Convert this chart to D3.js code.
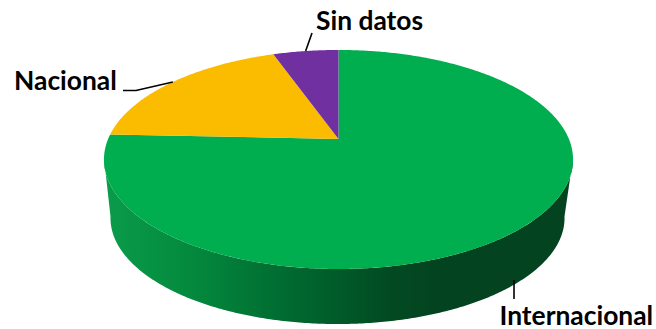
<!DOCTYPE html>
<html><head><meta charset="utf-8">
<script src="https://cdn.jsdelivr.net/npm/d3@7"></script>
<style>html,body{margin:0;padding:0;background:#fff}svg{display:block}</style>
</head><body><svg id="c" width="656" height="329"></svg>
<script>
const categories = ["Internacional", "Nacional", "Sin datos"];
const values = [75.7, 18.9, 5.4];
const colors = ["#00AE4F", "#FBBC00", "#7030A0"];
const labelX = [499.5, 14, 316];
const labelY = [325, 90, 30];

const svg = d3.select("#c");
const pie = d3.pie().sort(null)(values);
const defs = svg.append("defs");
const grad = defs.append("linearGradient").attr("id","side").attr("gradientUnits","userSpaceOnUse")
  .attr("x1",104).attr("x2",440).attr("y1",0).attr("y2",0);
[[0,"#0A9C4A"],[0.25,"#048A3E"],[0.55,"#006A30"],[0.85,"#024A22"],[1,"#03431F"]]
  .forEach(s=>grad.append("stop").attr("offset",s[0]).attr("stop-color",s[1]));

// perspective projection of the pie disc: a point at clockwise angle t from the top
const K = 0.187, A = 105.7, B = 230.4, CX = 338.5, TOPY = 139, BOTY = 198.2, BOTS = 0.968, BOTCX = 337.5;
function proj(t, y0, sc, cx=CX){
  const u = Math.cos(t), v = Math.sin(t), s = sc/(1+K*u);
  return [cx + B*v*s, y0 - A*u*s];
}
const line = d3.line();
function arcPts(a0,a1,y0,sc,cx=CX){
  const n = Math.max(2, Math.ceil(Math.abs(a1-a0)/0.01));
  return d3.range(n+1).map(i=>proj(a0+(a1-a0)*i/n,y0,sc,cx));
}
// side wall (visible front part of the first slice)
const front0 = 100*Math.PI/180, front1 = 260*Math.PI/180;
const sidePts = arcPts(front0,front1,TOPY,1).concat(arcPts(front1,front0,BOTY,BOTS,BOTCX));
svg.append("path").attr("d",line(sidePts)+"Z").attr("fill","url(#side)");

// top face
svg.selectAll("path.slice").data(pie).join("path").attr("class","slice")
  .attr("fill",(d,i)=>colors[i])
  .attr("d",d=>line([[CX,TOPY]].concat(arcPts(d.startAngle,d.endAngle,TOPY,1)))+"Z");

// leader lines, anchored on each slice's rim
const lg = svg.append("g").attr("fill","none").attr("stroke","#000").attr("stroke-width",1.6);
lg.append("path").attr("d",line([[514,280],[514,299]]));
const pN = proj(pie[1].startAngle+0.6,TOPY,1);
lg.append("path").attr("d",line([pN,[136,90.5],[123,90.5]]));
const pS = proj((pie[2].startAngle+pie[2].endAngle)/2,TOPY,1);
lg.append("path").attr("d",line([pS,[312,33]]));

svg.selectAll("text").data(categories).join("text")
  .attr("x",(d,i)=>labelX[i]).attr("y",(d,i)=>labelY[i])
  .attr("font-family","Lato, sans-serif").attr("font-weight",700).attr("font-size",26.4)
  .attr("fill","#000").text(d=>d);
</script></body></html>
